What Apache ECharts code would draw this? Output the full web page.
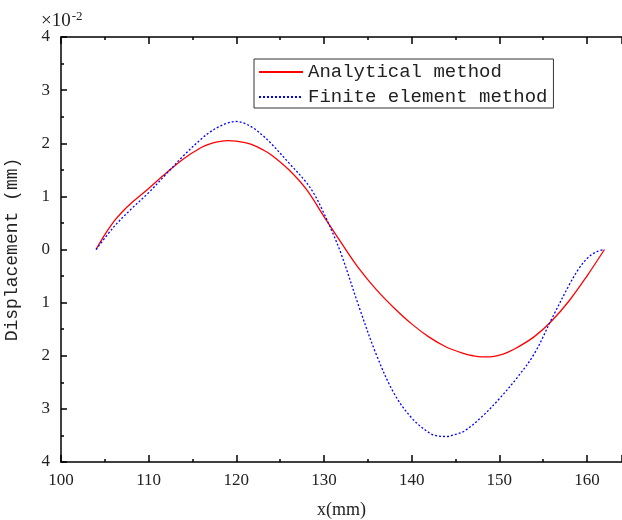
<!DOCTYPE html>
<html>
<head>
<meta charset="utf-8">
<script src="https://cdn.jsdelivr.net/npm/echarts@6/dist/echarts.min.js"></script>
<style>html,body{margin:0;padding:0;background:#fff}#c{width:622px;height:520px}</style>
</head>
<body>
<div id="c"></div>
<script>
// Analytical method (red)
var anaX = [104, 105, 106, 107, 108, 110, 112, 114, 116, 117, 118, 119, 120, 121, 122, 123, 124, 126, 128, 130, 132, 134, 136, 138, 140, 142, 144, 146, 147, 148, 149, 150, 151, 152, 154, 156, 158, 160, 162];
var anaY = [0, 0.28, 0.52, 0.71, 0.87, 1.15, 1.44, 1.71, 1.92, 1.99, 2.03, 2.05, 2.04, 2.01, 1.96, 1.88, 1.78, 1.50, 1.13, 0.62, 0.12, -0.36, -0.76, -1.10, -1.40, -1.65, -1.84, -1.96, -2.00, -2.02, -2.02, -1.99, -1.93, -1.85, -1.64, -1.34, -0.96, -0.50, 0];
// Finite element method (blue dotted)
var femX = [104, 106, 108, 110, 112, 114, 116, 117, 118, 119, 120, 121, 122, 123, 124, 126, 128, 129, 130, 131, 132, 134, 136, 138, 140, 142, 143, 144, 145, 146, 148, 150, 152, 154, 156, 158, 159, 160, 161, 162];
var femY = [0, 0.42, 0.76, 1.07, 1.42, 1.77, 2.08, 2.21, 2.31, 2.38, 2.41, 2.37, 2.28, 2.15, 1.99, 1.63, 1.26, 1.01, 0.68, 0.31, -0.10, -1.08, -1.99, -2.71, -3.17, -3.45, -3.51, -3.52, -3.48, -3.42, -3.15, -2.81, -2.42, -1.96, -1.30, -0.66, -0.38, -0.17, -0.05, 0];
var yTickValues = [-4, -3, -2, -1, 0, 1, 2, 3, 4];
var yTickLabels = ['4', '3', '2', '1', '0', '1', '2', '3', '4'];
var xTickLabels = ['100', '110', '120', '130', '140', '150', '160'];

function pairs(xs, ys) { return xs.map(function (x, i) { return [x, ys[i]]; }); }

var chart = echarts.init(document.getElementById('c'), null, { renderer: 'canvas' });
var serif = 'Liberation Serif';
var mono = 'Liberation Mono';
var axisLine = { show: true, onZero: false, lineStyle: { color: '#000', width: 1.5 } };
chart.setOption({
  backgroundColor: '#fff',
  animation: false,
  title: {
    text: '×10{s|-2}',
    left: 36, top: 5,
    textStyle: { fontFamily: serif, fontSize: 19, fontWeight: 'normal', color: '#222',
      rich: { s: { fontFamily: serif, fontSize: 13, color: '#222', verticalAlign: 'top', padding: [0, 0, 9, 1] } } }
  },
  legend: {
    orient: 'vertical', left: 254, top: 59,
    borderColor: '#333', borderWidth: 1, borderRadius: 0,
    padding: [3, 6, 1, 4], itemWidth: 44, itemHeight: 14, itemGap: 5,
    itemStyle: { opacity: 0 },
    textStyle: { fontFamily: mono, fontSize: 19, color: '#222', lineHeight: 20 },
    data: ['Analytical method', 'Finite element method']
  },
  grid: { left: 61, right: 0, top: 37, bottom: 58, containLabel: false, outerBoundsMode: 'none' },
  xAxis: [{
    type: 'value', position: 'bottom', min: 100, max: 164, interval: 10,
    name: 'x(mm)', nameLocation: 'middle', nameGap: 39,
    nameTextStyle: { fontFamily: serif, fontSize: 18, color: '#222' },
    axisLine: axisLine,
    axisTick: { show: true, inside: true, length: 7, lineStyle: { color: '#000', width: 1.5 } },
    minorTick: { show: true, splitNumber: 2, length: 3, lineStyle: { color: '#000', width: 1.5 } },
    axisLabel: { show: true, margin: 10, fontFamily: serif, fontSize: 17, color: '#222', showMaxLabel: false,
      formatter: function (v) { var i = Math.round((v - 100) / 10); return (Math.abs(v - 100 - i * 10) < 1e-6 && xTickLabels[i]) ? xTickLabels[i] : ''; } },
    splitLine: { show: false }
  }, {
    type: 'value', position: 'top', min: 100, max: 164, interval: 10,
    axisLine: axisLine,
    axisTick: { show: true, inside: true, length: 7, lineStyle: { color: '#000', width: 1.5 } },
    minorTick: { show: true, splitNumber: 2, length: 3, lineStyle: { color: '#000', width: 1.5 } },
    axisLabel: { show: false },
    splitLine: { show: false }
  }],
  yAxis: {
    type: 'value', min: -4, max: 4, interval: 1,
    name: 'Displacement (mm)', nameLocation: 'middle', nameGap: 40,
    nameTextStyle: { fontFamily: mono, fontSize: 18, color: '#222' },
    axisLine: axisLine,
    axisTick: { show: true, inside: true, length: 6, lineStyle: { color: '#000', width: 1.5 } },
    minorTick: { show: true, splitNumber: 2, length: 3, lineStyle: { color: '#000', width: 1.5 } },
    axisLabel: { margin: 11, fontFamily: serif, fontSize: 17, color: '#222',
      formatter: function (v) { var i = yTickValues.indexOf(v); return i >= 0 ? yTickLabels[i] : ''; } },
    splitLine: { show: false }
  },
  series: [{
    name: 'Analytical method', type: 'line', xAxisIndex: 0, smooth: 0.35, symbol: 'none',
    lineStyle: { color: '#ff0000', width: 1.3, type: 'solid' },
    itemStyle: { color: '#ff0000' },
    data: pairs(anaX, anaY)
  }, {
    name: 'Finite element method', type: 'line', xAxisIndex: 0, smooth: 0.35, symbol: 'none',
    lineStyle: { color: '#0000ff', width: 1.3, type: [2, 2] },
    itemStyle: { color: '#0000ff' },
    data: pairs(femX, femY)
  }]
});
</script>
</body>
</html>
